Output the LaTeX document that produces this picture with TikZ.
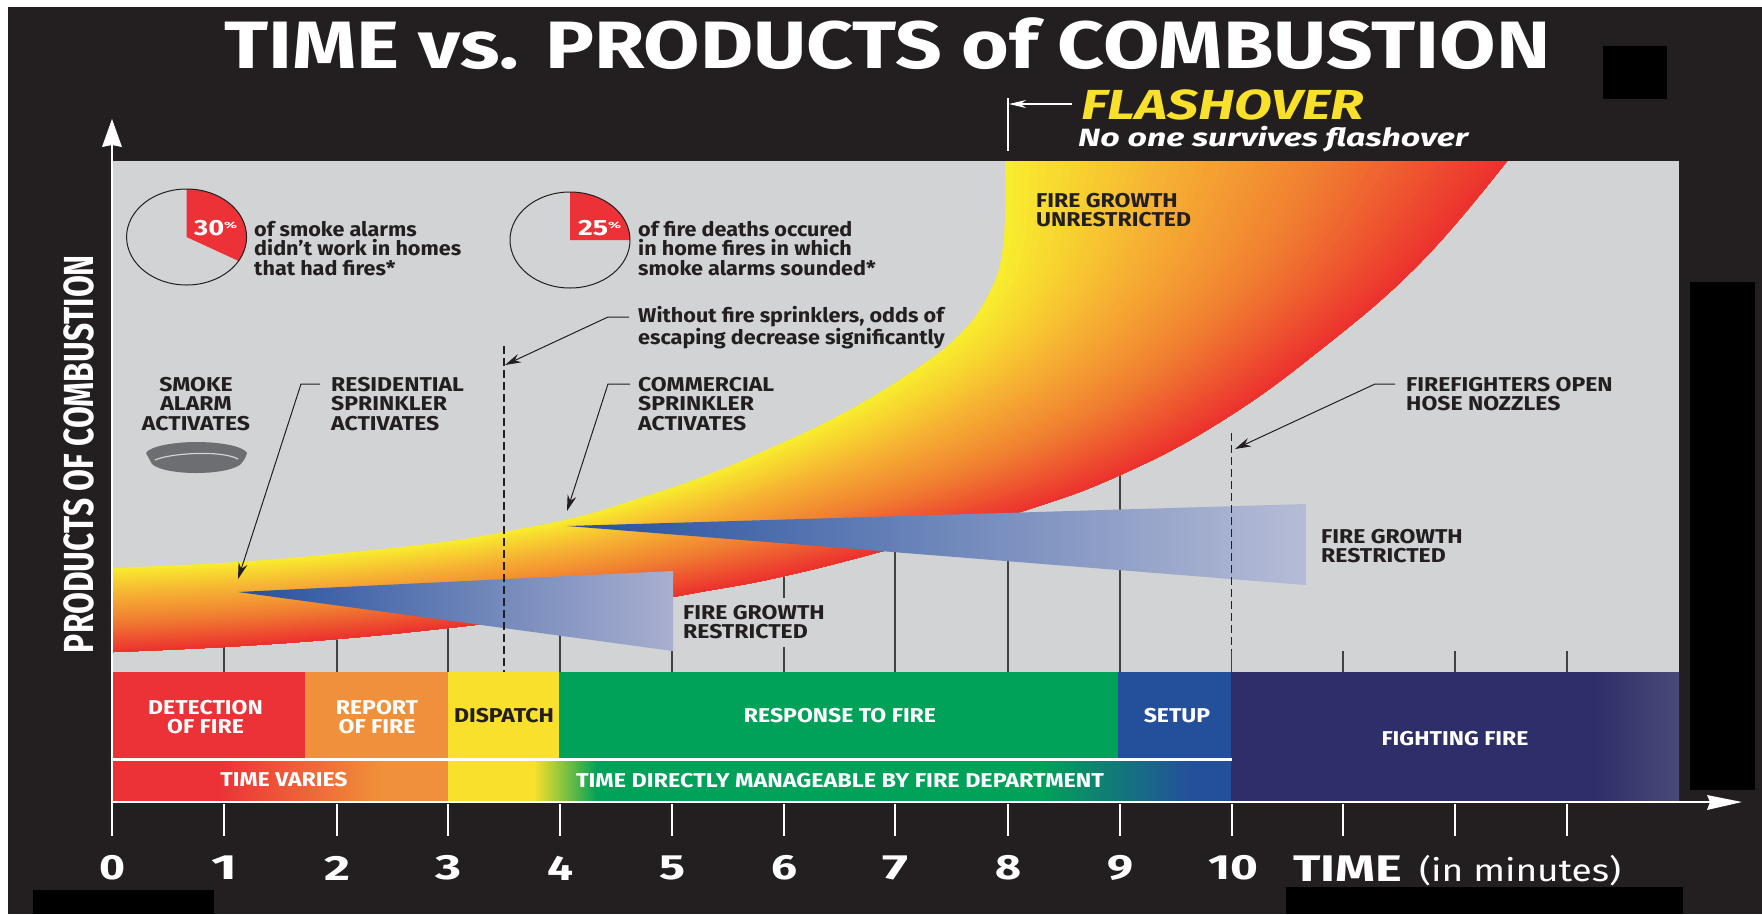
\documentclass[tikz,border=0pt]{standalone}
\usepackage{fontspec}
\usepackage{graphicx}
\setmainfont{Fira Sans}
\newfontfamily\capfam[FakeStretch=1.15]{Fira Sans}
\newfontfamily\lowfam[FakeStretch=1.08]{Fira Sans}
\usetikzlibrary{calc,arrows.meta}
\definecolor{panel}{HTML}{231F20}
\definecolor{ink}{HTML}{231F20}
\definecolor{greyzone}{HTML}{D1D3D4}
\definecolor{redz}{HTML}{EC3137}
\definecolor{orangez}{HTML}{F0903A}
\definecolor{yellowz}{HTML}{F8E02B}
\definecolor{greenz}{HTML}{00A159}
\definecolor{bluez}{HTML}{24509B}
\definecolor{navyz}{HTML}{2E2E6A}
\definecolor{navyl}{HTML}{4A4A78}
\definecolor{alarmgrey}{HTML}{6D6E72}
\definecolor{flameA}{HTML}{F8EC2E}
\definecolor{flameB}{HTML}{F6B333}
\definecolor{flameC}{HTML}{F07F31}
\definecolor{flameD}{HTML}{EC2F2E}
\definecolor{triA}{HTML}{24509E}
\definecolor{triM}{HTML}{6E78B0}
\definecolor{triB}{HTML}{A9AFCF}
\definecolor{triC}{HTML}{B6BCD6}
\newcommand\wtext[2]{\setbox0=\hbox{#2}\pgfmathsetmacro\wratio{#1/\the\wd0}\scalebox{\wratio}[1]{\box0}}
\newcommand\fs[1]{\fontsize{#1}{#1}\selectfont}
\newcommand\capfont{\capfam\bfseries\fontsize{20}{19.8}\selectfont}
\newcommand\lowfont{\lowfam\bfseries\fontsize{20}{19.8}\selectfont}
\tikzset{
  lbl/.style={font=\capfont,text=ink,align=left,anchor=west,inner sep=0pt},
  lbllow/.style={font=\lowfont,text=ink,align=left,anchor=west,inner sep=0pt},
  lblc/.style={font=\capfont,text=ink,align=center,anchor=center,inner sep=0pt},
  barlbl/.style={font=\capfont,text=white,align=center,anchor=center,inner sep=0pt},
  gridl/.style={draw=ink!85,line width=1.2pt},
  dashl/.style={draw=ink,line width=1.2pt,dash pattern=on 8pt off 4pt},
  leader/.style={draw=ink,line width=1pt,-{Stealth[length=16pt,width=9pt]}},
  axisl/.style={draw=white,line width=2pt},
  num/.style={font=\bfseries\fs{35},text=white,inner sep=0pt,anchor=center},
  mask/.style={fill=black,draw=none},
}
\newcommand\flamefill[2]{%
\fill[#2] plot[smooth,tension=0.7] coordinates {($(U1)!#1!(L1)$) ($(U2)!#1!(L2)$) ($(U3)!#1!(L3)$) ($(U4)!#1!(L4)$) ($(U5)!#1!(L5)$) ($(U6)!#1!(L6)$) ($(U7)!#1!(L7)$) ($(U8)!#1!(L8)$) ($(U9)!#1!(L9)$) ($(U10)!#1!(L10)$) ($(U11)!#1!(L11)$) ($(U12)!#1!(L12)$) ($(U13)!#1!(L13)$) ($(U14)!#1!(L14)$) ($(U15)!#1!(L15)$)}
 -- plot[smooth,tension=0.7] coordinates {(L15) (L14) (L13) (L12) (L11) (L10) (L9) (L8) (L7) (L6) (L5) (L4) (L3) (L2) (L1)} -- cycle;}
\begin{document}
\begin{tikzpicture}[x=1pt,y=-1pt]
\useasboundingbox (0,0) rectangle (1762,914);
\fill[white] (0,0) rectangle (1762,914);
\fill[panel] (8,7) rectangle (1762,914);
% masks
\fill[mask] (1603,46) rectangle (1667,99);
\fill[mask] (1690,282) rectangle (1755,790);
\fill[mask] (33,890) rectangle (214,914);
\fill[mask] (1286,887) rectangle (1683,914);
% grey field
\fill[greyzone] (113,161) rectangle (1679,672);
% gridlines
\foreach \gx/\gy in {224/630,337/630,448/600,560/600,672/620,895/530,1008/490,1120/450}
  \draw[gridl] (\gx,672) -- (\gx,\gy);
\draw[gridl] (784,672) -- (784,647);
\draw[gridl] (784,598) -- (784,560);
\foreach \gx in {1343,1455,1567} \draw[gridl] (\gx,672) -- (\gx,651);
% flame
\coordinate (U1) at (113,568);   \coordinate (L1) at (113,652);
\coordinate (U2) at (237,562);   \coordinate (L2) at (223,647);
\coordinate (U3) at (343,553);   \coordinate (L3) at (337,639);
\coordinate (U4) at (443,542);   \coordinate (L4) at (448,628);
\coordinate (U5) at (503,532);   \coordinate (L5) at (530,618);
\coordinate (U6) at (577,517);   \coordinate (L6) at (625,605);
\coordinate (U7) at (640,498);   \coordinate (L7) at (700,592);
\coordinate (U8) at (707,475);   \coordinate (L8) at (780,577);
\coordinate (U9) at (773,447);   \coordinate (L9) at (887,550);
\coordinate (U10) at (840,415);  \coordinate (L10) at (1020,512);
\coordinate (U11) at (907,375);  \coordinate (L11) at (1120,475);
\coordinate (U12) at (957,337);  \coordinate (L12) at (1220,422);
\coordinate (U13) at (987,297);  \coordinate (L13) at (1320,350);
\coordinate (U14) at (1003,247); \coordinate (L14) at (1420,263);
\coordinate (U15) at (1005,161); \coordinate (L15) at (1507,161);
\begin{scope}
\clip (113,161) rectangle (1679,672);
\foreach \i in {0,...,59}{
  \pgfmathsetmacro\tt{\i/60}
  \ifdim\tt pt<0.3pt
    \pgfmathsetmacro\pp{100*\tt/0.3}\colorlet{fc}{flameB!\pp!flameA}
  \else\ifdim\tt pt<0.62pt
    \pgfmathsetmacro\pp{100*(\tt-0.3)/0.32}\colorlet{fc}{flameC!\pp!flameB}
  \else
    \pgfmathsetmacro\pp{100*(\tt-0.62)/0.38}\colorlet{fc}{flameD!\pp!flameC}
  \fi\fi
  \flamefill{\tt}{fc}
}
\end{scope}
% restriction wedges
\shade[left color=triA,middle color=triM!85!triA,right color=triB] (238,592) -- (673,571) -- (673,651) -- cycle;
\shade[left color=triA,middle color=triM,right color=triC] (567,526) -- (1306,504) -- (1306,585) -- cycle;
% time bars
\fill[redz] (113,672) rectangle (305,759);
\fill[orangez] (305,672) rectangle (448,759);
\fill[yellowz] (448,672) rectangle (558.5,759);
\fill[greenz] (558.5,672) rectangle (1118,759);
\fill[bluez] (1118,672) rectangle (1231,759);
\fill[navyz] (1231,672) rectangle (1595,801);
\shade[left color=navyz,right color=navyl] (1594.5,672) rectangle (1679,801);
\fill[redz] (113,760) rectangle (218.5,801);
\shade[left color=redz,right color=orangez] (218,760) rectangle (380.5,801);
\fill[orangez] (380,760) rectangle (448,801);
\fill[yellowz] (448,760) rectangle (534.5,801);
\shade[left color=yellowz,right color=greenz] (534,760) rectangle (597.5,801);
\fill[greenz] (597,760) rectangle (1043.5,801);
\shade[left color=greenz,right color=bluez] (1043,760) rectangle (1189.5,801);
\fill[bluez] (1189,760) rectangle (1231,801);
\draw[draw=white,line width=2.5pt] (113,759.5) -- (1232,759.5);
% dashed time markers
\draw[dashl] (504,346) -- (504,672);
\draw[dashl] (1231.5,433) -- (1231.5,651);
\draw[gridl] (1231.5,651) -- (1231.5,672);
% axes
\coordinate (yorig) at (112,836);
\coordinate (ytop) at (112,119);
\coordinate (xorig) at (112,802);
\coordinate (xend) at (1742,802);
\draw[axisl] (yorig) -- (112,140);
\fill[white] (ytop) -- (122,147) -- (112,145) -- (102,147) -- cycle;
\draw[axisl] (xorig) -- (1715,802);
\fill[white] (xend) -- (1707,810) -- (1710,802) -- (1707,795) -- cycle;
\foreach \k/\kx in {1/224,2/337,3/448,4/560,5/672,6/784,7/895,8/1008,9/1120,10/1231.5,11/1343,12/1455,13/1567}
  \draw[axisl] (\kx,804) -- (\kx,836);
% axis numbers
\foreach \n/\kx in {0/112,1/224,2/337,3/448,4/560,5/672,6/784,7/895,8/1008,9/1120}
  \node[num] (n\n) at (\kx,868) {\wtext{26}{\n}};
\node[num] (n10) at (1233,868) {\wtext{50}{10}};
\node[font=\bfseries\fs{37},text=white,inner sep=0pt,anchor=base west] (timelbl) at (1293,881) {\wtext{109}{TIME}};
\node[font=\fs{31},text=white,inner sep=0pt,anchor=base west] (inmin) at (1419,881) {\wtext{202}{(in minutes)}};
% title
\node[font=\bfseries\fs{67},text=white,inner sep=0pt,anchor=base west] (title) at (224,68) {\wtext{1326}{TIME vs. PRODUCTS of COMBUSTION}};
% flashover
\coordinate (fbtop) at (1008,98);
\coordinate (fbbot) at (1008,151);
\coordinate (fbstart) at (1072,104);
\coordinate (fbtip) at (1009,104);
\draw[draw=white,line width=1.2pt] (fbtop) -- (fbbot);
\draw[draw=white,line width=1.2pt,-{Stealth[length=17pt,width=8pt]}] (fbstart) -- (fbtip);
\node[font=\bfseries\itshape\fs{42},text=yellowz,inner sep=0pt,anchor=base west] (flash) at (1081,119) {\wtext{283}{FLASHOVER}};
\node[font=\bfseries\itshape\fs{25},text=white,inner sep=0pt,anchor=base west] (nosurv) at (1078,146) {\wtext{390}{No one survives flashover}};
% y axis label
\node[font=\bfseries\fs{42},text=white,inner sep=0pt,rotate=90,anchor=center] (ylab) at (79,454) {\wtext{398}{PRODUCTS OF COMBUSTION}};
% pies
\coordinate (pa) at (186.6,237);
\coordinate (pb) at (570,240);
\fill[redz] (pa) -- ++(0,-48) arc[start angle=90,end angle=-30,x radius=60pt,y radius=48pt] -- cycle;
\fill[redz] (pb) -- ++(0,-48) arc[start angle=90,end angle=0,x radius=60pt,y radius=48pt] -- cycle;
\draw[draw=ink,line width=1pt] (pa) ellipse [x radius=60pt,y radius=48pt];
\draw[draw=ink,line width=1pt] (pb) ellipse [x radius=60pt,y radius=48pt];
\node[font=\bfseries\fs{22},text=white,inner sep=0pt,anchor=base west] (p30) at (194,235) {\wtext{30}{30}\raisebox{7pt}{\fs{9}\wtext{13}{\%}}};
\node[font=\bfseries\fs{22},text=white,inner sep=0pt,anchor=base west] (p25) at (578,235) {\wtext{30}{25}\raisebox{7pt}{\fs{9}\wtext{13}{\%}}};
% texts
\node[lbllow] (t30) at (254,248.5) {of smoke alarms\\didn’t work in homes\\that had fires*};
\node[lbllow] (t25) at (638,248.5) {of fire deaths occured\\in home fires in which\\smoke alarms sounded*};
\node[lbllow] (without) at (638,327.5) {Without fire sprinklers, odds of\\escaping decrease significantly};
\node[lblc] (smoke) at (196,404) {SMOKE\\ALARM\\ACTIVATES};
\node[lbl] (resid) at (331,404) {RESIDENTIAL\\SPRINKLER\\ACTIVATES};
\node[lbl] (comm) at (638,404) {COMMERCIAL\\SPRINKLER\\ACTIVATES};
\node[lbl] (hose) at (1406,394) {FIREFIGHTERS OPEN\\HOSE NOZZLES};
\node[lbl] (unres) at (1036,210) {FIRE GROWTH\\UNRESTRICTED};
\node[lbl] (res1) at (683,622) {FIRE GROWTH\\RESTRICTED};
\node[lbl] (res2) at (1321,546) {FIRE GROWTH\\RESTRICTED};
% smoke alarm icon
\fill[alarmgrey] (146,453) .. controls (150,446) and (175,442) .. (196,442) .. controls (220,442) and (243,446) .. (247,453) .. controls (246,458) and (243,461) .. (241,464) .. controls (234,470) and (215,473) .. (196,473) .. controls (178,473) and (158,470) .. (152,464) .. controls (150,460) and (148,457) .. (146,453) -- cycle;
\draw[draw=greyzone,line width=1.2pt] (155,460) .. controls (170,453) and (222,450) .. (238,459);
% leaders
\coordinate (la) at (320,384); \coordinate (lb) at (301,384); \coordinate (lc) at (238,579);
\draw[leader] (la) -- (lb) -- (lc);
\coordinate (ma) at (630,384); \coordinate (mb) at (608,384); \coordinate (mc) at (567,511);
\draw[leader] (ma) -- (mb) -- (mc);
\coordinate (wa) at (629,317); \coordinate (wb) at (608,317); \coordinate (wc) at (505,365);
\draw[leader] (wa) -- (wb) -- (wc);
\coordinate (fa) at (1395,384); \coordinate (fb) at (1375,384); \coordinate (fc2) at (1235,449);
\draw[leader] (fa) -- (fb) -- (fc2);
% bar labels
\node[barlbl] (det) at (205.5,717) {DETECTION\\OF FIRE};
\node[barlbl] (rep) at (377,717) {REPORT\\OF FIRE};
\node[barlbl,text=ink] (disp) at (504,716) {DISPATCH};
\node[barlbl] (resp) at (840,716) {RESPONSE TO FIRE};
\node[barlbl] (setup) at (1177,716) {SETUP};
\node[barlbl] (fight) at (1455,739) {FIGHTING FIRE};
\node[barlbl] (varies) at (284,780) {TIME VARIES};
\node[barlbl] (manage) at (840,781) {\wtext{528}{TIME DIRECTLY MANAGEABLE BY FIRE DEPARTMENT}};
\end{tikzpicture}
\end{document}
